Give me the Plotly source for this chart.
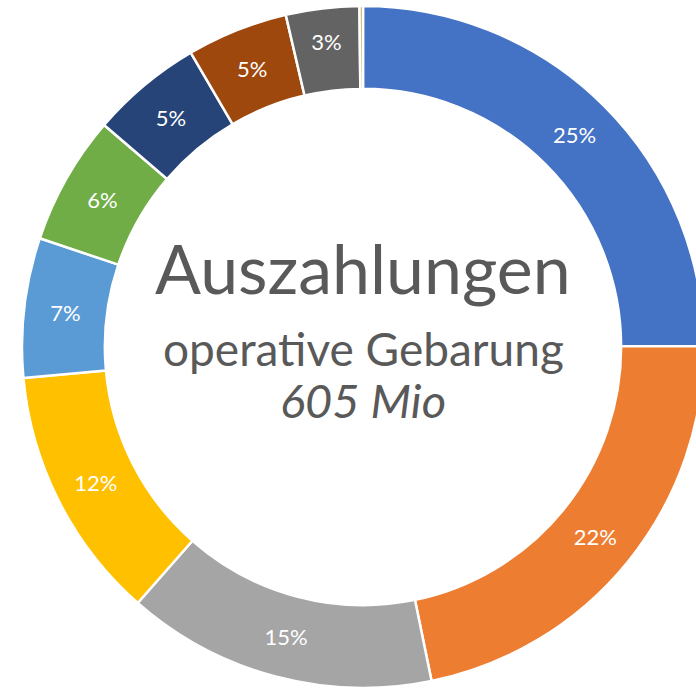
import plotly.graph_objects as go

categories = ["A", "B", "C", "D", "E", "F", "G", "H", "I", "J"]
values_mio = [151, 132, 89, 73, 40, 37, 32, 29, 21, 1]
colors = ["#4472C4", "#ED7D31", "#A5A5A5", "#FFC000", "#5B9BD5",
          "#70AD47", "#264478", "#9E480E", "#636363", "#C8A951"]
center_title = "Auszahlungen"
center_sub = "operative Gebarung"
center_total = "605 Mio"

W, H = 730, 694
L, R, T, B = 22, 26, 6, 6
fig = go.Figure(go.Pie(
    labels=categories,
    values=values_mio,
    sort=False,
    direction="clockwise",
    rotation=0,
    hole=0.757,
    marker=dict(colors=colors, line=dict(color="white", width=2.5)),
    texttemplate=["%{percent:.0%}"] * (len(values_mio) - 1) + [""],
    textposition="inside",
    insidetextorientation="horizontal",
    textfont=dict(family="Lato", size=22, color="white"),
    hoverinfo="label+value+percent",
    showlegend=False,
))

def py(y):
    return 1 - (y - T) / (H - T - B)

fig.add_annotation(x=0.5, y=py(267), xref="paper", yref="paper", text=center_title,
                   showarrow=False, font=dict(family="Lato", size=68, color="#595959"),
                   yanchor="middle")
fig.add_annotation(x=0.5, y=py(348), xref="paper", yref="paper", text=center_sub,
                   showarrow=False, font=dict(family="Lato", size=46, color="#595959"),
                   yanchor="middle")
fig.add_annotation(x=0.5, y=py(400), xref="paper", yref="paper", text="<i>" + center_total + "</i>",
                   showarrow=False, font=dict(family="Lato", size=47, color="#595959"),
                   yanchor="middle")

fig.update_layout(width=W, height=H, margin=dict(l=L, r=R, t=T, b=B),
                  paper_bgcolor="white", plot_bgcolor="white")

fig.write_html("out.html", config={"displayModeBar": False},
               post_script="document.body.style.margin='0';document.body.style.overflow='hidden';")
